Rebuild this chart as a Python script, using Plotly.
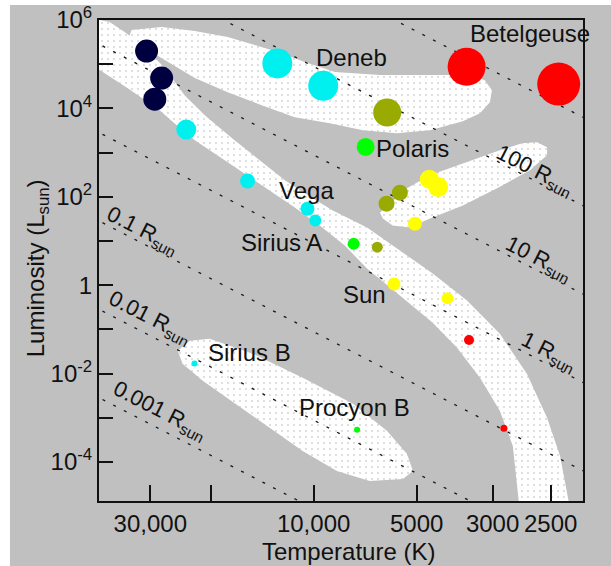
import numpy as np
import plotly.graph_objects as go

# ---------------- data (log10 T [K], log10 L [L_sun]) ----------------
navy_logT = [4.488, 4.444, 4.464]
navy_logL = [5.297, 4.685, 4.209]
cyan_logT = [4.372, 4.193, 4.106, 3.972, 4.018, 3.995, 4.348]
cyan_logL = [3.522, 2.356, 5.018, 4.510, 1.730, 1.465, -1.771]
olive_logT = [3.785, 3.748, 3.787, 3.814]
olive_logL = [3.907, 2.093, 1.844, 0.859]
green_logT = [3.848, 3.883, 3.873]
green_logL = [3.127, 0.937, -3.274]
yellow_logT = [3.662, 3.636, 3.704, 3.765, 3.609]
yellow_logL = [2.395, 2.220, 1.390, 0.029, -0.297]
red_logT = [3.553, 3.284, 3.546, 3.444]
red_logL = [4.941, 4.549, -1.240, -3.236]

# star labels
label_text = ["Deneb", "Betelgeuse", "Polaris", "Vega", "Sirius A", "Sun", "Sirius B", "Procyon B"]
label_logT = [3.888, 3.368, 3.710, 4.020, 4.093, 3.850, 4.187, 3.880]
label_logL = [5.161, 5.705, 3.098, 2.145, 0.966, -0.213, -1.528, -2.776]

# lines of constant radius
radii = [0.001, 0.01, 0.1, 1, 10, 100, 1000]
radius_text = ["0.001", "0.01", "0.1", "1", "10", "100", None]
radius_label_logT = [4.450, 4.479, 4.499, 3.315, 3.344, 3.353, None]
T_SUN = 5800.0

# schematic regions (outlines, log10 T and log10 L)
sg_logT = [4.532, 4.444, 4.347, 4.251, 4.172, 4.105, 4.026, 3.938, 3.806, 3.660, 3.543, 3.500,
           3.479, 3.485, 3.514, 3.564, 3.660, 3.757, 3.856, 3.953, 4.055, 4.152, 4.251, 4.347,
           4.444, 4.508, 4.538]
sg_logL = [5.773, 5.841, 5.751, 5.615, 5.433, 5.274, 5.048, 4.821, 4.753, 4.753, 4.753, 4.639,
           4.413, 4.141, 3.891, 3.710, 3.506, 3.438, 3.506, 3.664, 3.800, 4.073, 4.367, 4.685,
           5.138, 5.433, 5.637]
ms_logT = [4.66, 4.625, 4.596, 4.552, 4.494, 4.435, 4.377, 4.318, 4.231, 4.152, 4.084, 4.026,
           3.944, 3.844, 3.748, 3.652, 3.552, 3.456, 3.377, 3.318, 3.280, 3.245,
           3.395, 3.418, 3.456, 3.514, 3.581, 3.652, 3.748, 3.844, 3.909, 3.982, 4.055, 4.152,
           4.251, 4.347, 4.400, 4.450, 4.543, 4.625, 4.66]
ms_logL = [6.1, 6.0, 5.955, 5.728, 5.388, 4.912, 4.299, 3.846, 3.279, 2.780, 2.372, 2.077,
           1.692, 1.306, 0.785, 0.263, -0.349, -1.098, -2.005, -3.002, -3.864, -5.3,
           -5.3, -3.637, -2.844, -2.095, -1.415, -0.848, -0.236, 0.376, 0.898, 1.352, 1.760, 2.259,
           2.780, 3.279, 3.619, 3.959, 4.458, 4.866, 4.95]
rg_logT = [3.806, 3.727, 3.660, 3.564, 3.456, 3.391, 3.347, 3.318, 3.318, 3.368, 3.464, 3.564,
           3.660, 3.719, 3.769, 3.798]
rg_logL = [1.646, 2.191, 2.485, 2.757, 3.052, 3.211, 3.234, 3.121, 2.939, 2.599, 2.191, 1.805,
           1.510, 1.306, 1.352, 1.510]
wd_logT = [4.397, 4.362, 4.304, 4.178, 4.032, 3.885, 3.786, 3.727, 3.710, 3.739, 3.836, 3.932,
           4.032, 4.128, 4.225, 4.324, 4.383]
wd_logL = [-1.483, -1.256, -1.211, -1.551, -2.095, -2.685, -3.297, -3.819, -4.204, -4.386,
           -4.431, -4.204, -3.751, -3.229, -2.685, -2.163, -1.778]

# axis ticks
x_tickvals = [30000, 10000, 5000, 3000, 2030]
x_ticktext = ["30,000", "10,000", "5000", "3000", "2500"]
x_minor_tickvals = [20000]
y_tickvals = [1e6, 1e4, 1e2, 1, 1e-2, 1e-4]
y_ticktext = ["10<sup>6</sup>", "10<sup>4</sup>", "10<sup>2</sup>", "1",
              "10<sup>-2</sup>", "10<sup>-4</sup>"]
y_minor_tickvals = [1e5, 1e3, 1e1, 1e-1, 1e-3]

# ---------------- figure ----------------
FONT = "Liberation Sans, Arial, sans-serif"
GRAY = "#c0c0c0"
INK = "#111111"
fig = go.Figure()

pattern = dict(shape=".", bgcolor="white", fgcolor="#a0a0a0", size=6, solidity=0.07)
for lt, ll in [(ms_logT, ms_logL), (sg_logT, sg_logL), (rg_logT, rg_logL), (wd_logT, wd_logL)]:
    fig.add_trace(go.Scatter(
        x=10 ** np.array(lt), y=10 ** np.array(ll), mode="lines", fill="toself",
        fillcolor="white", fillpattern=pattern, line=dict(width=0, color="white"),
        hoverinfo="skip", showlegend=False))

T_line = np.array([1500.0, 60000.0])
for R in radii:
    L_line = R ** 2 * (T_line / T_SUN) ** 4
    fig.add_trace(go.Scatter(
        x=T_line, y=L_line, mode="lines",
        line=dict(color="#181818", width=1.3, dash="3px,9px"),
        hoverinfo="skip", showlegend=False))

groups = [
    (navy_logT, navy_logL, [23, 23, 23], "#000040"),
    (cyan_logT, cyan_logL, [20, 15, 30, 30, 14, 12, 6], "#00f0f0"),
    (olive_logT, olive_logL, [28, 16, 16, 11], "#99aa00"),
    (green_logT, green_logL, [18, 12, 6], "#00ff00"),
    (yellow_logT, yellow_logL, [19, 20, 14, 13, 12], "#ffff00"),
    (red_logT, red_logL, [38, 43, 10, 7], "#ff0000"),
]
for lt, ll, sz, col in groups:
    fig.add_trace(go.Scatter(
        x=10 ** np.array(lt), y=10 ** np.array(ll), mode="markers", opacity=1,
        marker=dict(size=sz, color=col, opacity=1, line=dict(width=0)),
        showlegend=False))

annotations = []
for t, lt, ll in zip(label_text, label_logT, label_logL):
    annotations.append(dict(x=lt, y=ll, xref="x", yref="y", text=t, showarrow=False,
                            xanchor="center", yanchor="middle",
                            font=dict(family=FONT, size=24, color=INK)))

yshifts = [18, 17, 13, 12, 12, 10]
for R, txt, lt, ys in zip(radii, radius_text, radius_label_logT, yshifts):
    if txt is None:
        continue
    ll = np.log10(R ** 2 * (10 ** lt / T_SUN) ** 4)
    annotations.append(dict(x=lt, y=ll, xref="x", yref="y", yshift=ys,
                            xanchor="center", yanchor="middle",
                            text=txt + " R<sub>sun</sub>", showarrow=False, textangle=27,
                            font=dict(family=FONT, size=22, color=INK)))

annotations.append(dict(x=0.5165, y=-0.104, xref="paper", yref="paper", text="Temperature (K)",
                        showarrow=False, xanchor="center", yanchor="middle",
                        font=dict(family=FONT, size=24, color=INK)))
annotations.append(dict(x=-0.128, y=0.484, xref="paper", yref="paper",
                        text="Luminosity (L<sub>sun</sub>)", showarrow=False, textangle=-90,
                        xanchor="center", yanchor="middle",
                        font=dict(family=FONT, size=24, color=INK)))

fig.update_layout(
    width=611, height=566,
    margin=dict(l=99, r=28, t=20, b=65, autoexpand=False),
    paper_bgcolor=GRAY, plot_bgcolor=GRAY,
    annotations=annotations,
    shapes=[
        dict(type="rect", xref="paper", yref="paper", x0=-0.25, x1=-0.184, y0=-0.2, y1=1.1,
             fillcolor="white", line=dict(width=0), layer="below"),
        dict(type="rect", xref="paper", yref="paper", x0=-0.25, x1=1.1, y0=1.031, y1=1.1,
             fillcolor="white", line=dict(width=0), layer="below"),
    ],
    font=dict(family=FONT, size=24, color=INK),
)
fig.update_xaxes(type="log", range=[4.627, 3.213], tickvals=x_tickvals, ticktext=x_ticktext,
                 ticks="inside", ticklen=16, tickwidth=1.5, tickcolor=INK,
                 minor=dict(tickvals=x_minor_tickvals, ticks="inside", ticklen=16,
                            tickwidth=1.5, tickcolor=INK, showgrid=False),
                 showline=True, linecolor=INK, linewidth=2, mirror=True, automargin=False,
                 showgrid=False, zeroline=False, tickfont=dict(size=24))
fig.update_yaxes(type="log", range=[-4.884, 6.0], tickvals=y_tickvals, ticktext=y_ticktext,
                 ticks="inside", ticklen=14, tickwidth=1.5, tickcolor=INK,
                 minor=dict(tickvals=y_minor_tickvals, ticks="inside", ticklen=14,
                            tickwidth=1.5, tickcolor=INK, showgrid=False),
                 showline=True, linecolor=INK, linewidth=2, mirror=True, automargin=False,
                 showgrid=False, zeroline=False, tickfont=dict(size=24))

fig.write_html("out.html", config={"displayModeBar": False},
               post_script="document.body.style.margin='0';document.body.style.padding='0';"
                           "document.body.style.overflow='hidden';"
                           "document.documentElement.style.overflow='hidden';")
